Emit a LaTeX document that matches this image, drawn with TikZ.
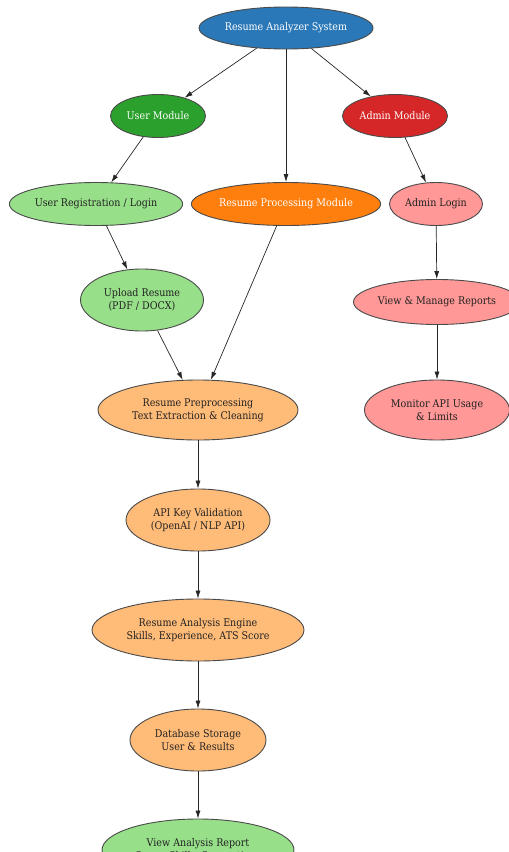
\documentclass[tikz,border=0pt]{standalone}
\usepackage{fontspec}
\setmainfont{DejaVu Serif Condensed}
\usetikzlibrary{shapes.geometric,arrows.meta}
\definecolor{cblue}{HTML}{2B78B8}
\definecolor{cgreen}{HTML}{2CA02C}
\definecolor{cred}{HTML}{D62728}
\definecolor{corange}{HTML}{FF7F0E}
\definecolor{lgreen}{HTML}{98DF8A}
\definecolor{lorange}{HTML}{FFBB78}
\definecolor{lred}{HTML}{FF9896}
\definecolor{edge}{HTML}{4A4A4A}
\definecolor{txt}{HTML}{222222}
\tikzset{
  ell/.style={ellipse, draw=edge, line width=0.9pt, inner sep=0pt, align=center, font=\fontsize{10.6}{13}\selectfont, text=txt},
  dark/.style={ell, text=white},
  conn/.style={-{Latex[length=8pt,width=5pt]}, draw=black!85, line width=0.7pt}
}
\begin{document}
\begin{tikzpicture}[x=1pt,y=-1pt]
\useasboundingbox (0,0) rectangle (509,852);
\clip (0,0) rectangle (509,852);
\node[dark, fill=cblue, minimum width=174pt, minimum height=42pt] (top) at (286,28) {Resume Analyzer System};
\node[dark, fill=cgreen, minimum width=95pt, minimum height=43pt] (um) at (158,116) {User Module};
\node[dark, fill=cred, minimum width=105pt, minimum height=43pt] (am) at (395,116) {Admin Module};
\node[ell, fill=lgreen, minimum width=172pt, minimum height=43pt] (ur) at (96,204) {User Registration / Login};
\node[dark, fill=corange, minimum width=185pt, minimum height=43pt] (rp) at (286,204) {Resume Processing Module};
\node[ell, fill=lred, minimum width=93pt, minimum height=43pt] (al) at (436,204) {Admin Login};
\node[ell, fill=lgreen, minimum width=123pt, minimum height=62pt] (up) at (142,300) {Upload Resume\\(PDF / DOCX)};
\node[ell, fill=lred, minimum width=158pt, minimum height=45pt] (vm) at (437,302) {View \& Manage Reports};
\node[ell, fill=lorange, minimum width=200pt, minimum height=60pt] (pre) at (198,410) {Resume Preprocessing\\Text Extraction \& Cleaning};
\node[ell, fill=lred, minimum width=145pt, minimum height=60pt] (mon) at (437,410) {Monitor API Usage\\\& Limits};
\node[ell, fill=lorange, minimum width=144pt, minimum height=62pt] (api) at (198,520) {API Key Validation\\(OpenAI / NLP API)};
\node[ell, fill=lorange, minimum width=212pt, minimum height=62pt] (eng) at (198,630) {Resume Analysis Engine\\Skills, Experience, ATS Score};
\node[ell, fill=lorange, minimum width=136pt, minimum height=62pt] (db) at (198,740) {Database Storage\\User \& Results};
\node[ell, fill=lgreen, minimum width=192pt, minimum height=62pt] (var) at (198,850) {View Analysis Report\\Score, Skills, Suggestions};
\draw[conn] (top) -- (um);
\draw[conn] (top) -- (rp);
\draw[conn] (top) -- (am);
\draw[conn] (um) -- (ur);
\draw[conn] (am) -- (al);
\draw[conn] (ur) -- (up);
\draw[conn] (up) -- (pre);
\draw[conn] (rp) -- (pre);
\draw[conn] (al) -- (vm);
\draw[conn] (vm) -- (mon);
\draw[conn] (pre) -- (api);
\draw[conn] (api) -- (eng);
\draw[conn] (eng) -- (db);
\draw[conn] (db) -- (var);
\end{tikzpicture}
\end{document}
